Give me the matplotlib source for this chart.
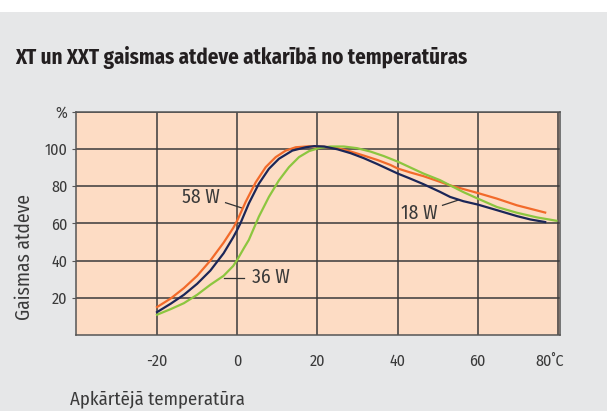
import matplotlib
matplotlib.use("Agg")
import matplotlib.pyplot as plt
import matplotlib.transforms as mtransforms
from matplotlib.patches import Rectangle

plt.rcParams["font.family"] = ["Fira Sans Condensed", "PT Sans Narrow", "DejaVu Sans"]

# values (temperature in °C, light output in %)
t_58 = [-20, -16.6, -13.3, -10, -6.7, -3.4, -1, 0, 2.1, 4.6, 7.1, 9.6, 12.1, 14.6, 17.9, 21.25,
        25, 28.3, 31.6, 34.9, 38.2, 40, 43.1, 46.4, 50.6, 53.1, 60, 64.75, 69.75, 76.8]
v_58 = [15, 19.6, 25.2, 31.8, 40, 49.6, 57.5, 61.5, 71.5, 82, 90.2, 95.6, 99.1, 100.9, 101.4, 101.2,
        100.4, 98.6, 96.4, 94.1, 91.4, 89.5, 87.4, 85.4, 82.3, 80.4, 76.3, 73.3, 69.7, 65.8]

t_18 = [-20, -16.6, -13.3, -10, -6.7, -3.4, -1, 0, 0.8, 2.9, 5.4, 7.9, 10.4, 13.75, 17.1, 19.2, 21.7,
        25, 28.3, 31.6, 34.9, 38.2, 40, 43.1, 46.4, 50.6, 53.1, 56.4, 60, 64.75, 69.75, 73.1, 76.8]
v_18 = [12.3, 16.8, 21.6, 27.5, 34.6, 43.9, 52.5, 56.5, 60, 70.7, 81.3, 89.3, 94.7, 99.1, 100.9, 101.5, 101.3,
        99.8, 97.7, 95, 91.9, 88.6, 86.8, 84.1, 81.1, 76.9, 74.2, 71.9, 70.1, 67.1, 63.9, 62.1, 60.7]

t_36 = [-20, -16.6, -13.3, -10, -6.7, -3.4, -1, 0, 1.65, 2.9, 5.4, 7.9, 10.4, 12.9, 15.4, 17.9, 20.4,
        23.3, 26.6, 29.9, 33.2, 36.5, 40, 43.1, 46.4, 50.6, 53.1, 56.4, 60, 64.75, 69.75, 74.75, 79.6]
v_36 = [10.9, 13.9, 17.1, 21.6, 27, 31.8, 37.1, 40.4, 46.6, 51.1, 63.6, 74.2, 83.1, 90.2, 95.6, 98.8, 100.5,
        101.3, 101.3, 100.4, 98.6, 96.2, 93.2, 90.1, 86.8, 83.2, 80.4, 76.8, 73.3, 68.8, 65.7, 63.2, 61.4]

x_ticks = [-20, 0, 20, 40, 60, 80]
x_labels = ["-20", "0", "20", "40", "60", "80˚C"]
y_ticks = [20, 40, 60, 80, 100, 120]
y_labels = ["20", "40", "60", "80", "100", "%"]

txt = "#3a3a3a"

fig = plt.figure(figsize=(6.07, 4.11), dpi=100, facecolor="white")
# grey panel below a thin white strip
fig.patches.append(Rectangle((0, 0), 1, 0.97, transform=fig.transFigure,
                             facecolor="#e6e7e8", edgecolor="none", zorder=-10))

ax = fig.add_axes([0.1252, 0.1849, 0.7974, 0.5433])
ax.set_facecolor("#fddcc4")

ax.plot(t_58, v_58, color="#f26a2a", lw=1.6, zorder=3, solid_joinstyle="round")
ax.plot(t_36, v_36, color="#8cc63f", lw=1.6, zorder=3, solid_joinstyle="round")
ax.plot(t_18, v_18, color="#1b2658", lw=1.6, zorder=4, solid_joinstyle="round")

ax.set_xlim(-40.2, 80.5)
ax.set_ylim(0, 120)
ax.set_xticks(x_ticks)
ax.set_xticklabels(x_labels, fontsize=11.5, color=txt)
ax.set_yticks(y_ticks)
ax.set_yticklabels(y_labels, fontsize=11.5, color=txt)
ax.tick_params(axis="x", length=0, pad=13)
ax.tick_params(axis="y", length=3, width=0.8, color="#555555", pad=3)
# last x label sits a bit left of its gridline
last = ax.get_xticklabels()[-1]
last.set_transform(last.get_transform() + mtransforms.ScaledTranslation(-0.08, 0, fig.dpi_scale_trans))

ax.grid(True, color="#3a3a3a", lw=1.1)
for s in ax.spines.values():
    s.set_color("#555555")
    s.set_linewidth(1.1)

# curve labels with leader lines
ax.text(-9, 74, "58 W", fontsize=14, color=txt, ha="center", va="center")
ax.plot([-2.9, 1.25], [71.1, 68.2], color="#333333", lw=0.9)
ax.text(8.3, 31, "36 W", fontsize=14, color=txt, ha="center", va="center")
ax.plot([-3.2, 1.7], [30.7, 30.7], color="#333333", lw=0.9)
ax.text(45.3, 65.3, "18 W", fontsize=14, color=txt, ha="center", va="center")
ax.plot([51.2, 55.4], [69.7, 72.7], color="#333333", lw=0.9)

fig.text(0.0255, 0.861, "XT un XXT gaismas atdeve atkarībā no temperatūras",
         fontsize=15, fontweight="bold", color="#231f20", va="center")
fig.text(0.0395, 0.375, "Gaismas atdeve", rotation=90, fontsize=14,
         color=txt, ha="center", va="center")
fig.text(0.116, 0.029, "Apkārtējā temperatūra", fontsize=13.5,
         color=txt, ha="left", va="center")

fig.savefig("out.png", dpi=100, facecolor=fig.get_facecolor())
